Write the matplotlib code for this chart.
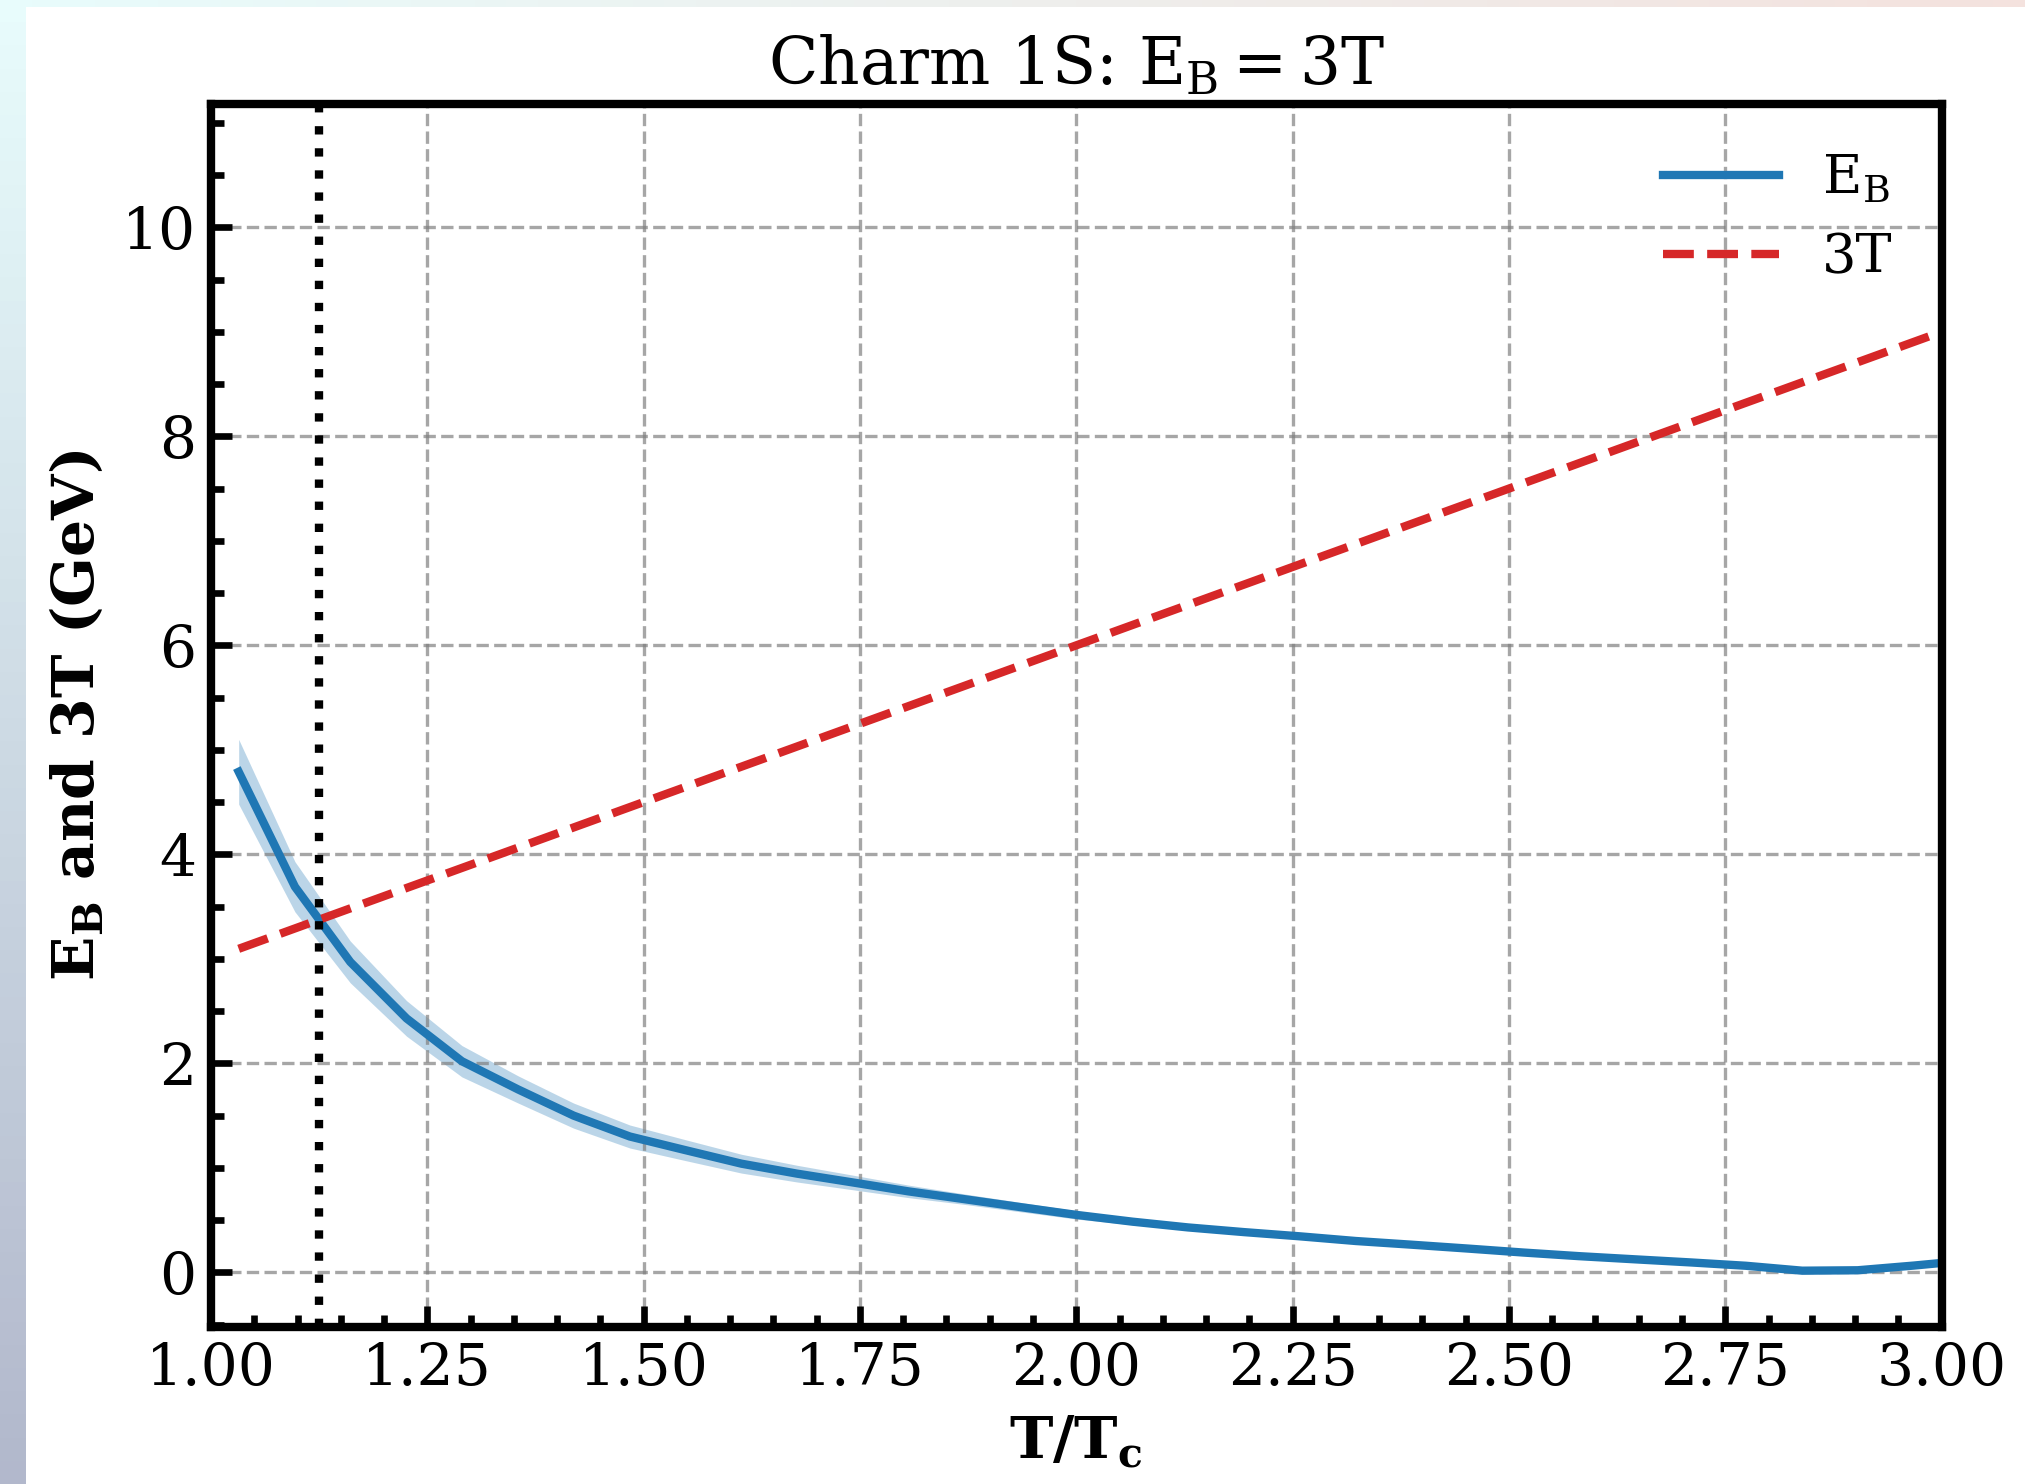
import numpy as np
import matplotlib
matplotlib.use("Agg")
import matplotlib.pyplot as plt
from matplotlib.patches import Rectangle
from matplotlib.ticker import MultipleLocator

plt.rcParams['font.family'] = 'serif'
plt.rcParams['font.serif'] = ['DejaVu Serif']
plt.rcParams['mathtext.fontset'] = 'dejavuserif'

# T/Tc grid and charm 1S binding energy (GeV) with its band
t_over_tc = [1.032, 1.097, 1.161, 1.226, 1.290, 1.355, 1.419, 1.484, 1.548, 1.613,
             1.677, 1.742, 1.806, 1.871, 1.935, 2.000, 2.065, 2.129, 2.194, 2.258,
             2.323, 2.387, 2.452, 2.516, 2.581, 2.645, 2.710, 2.774, 2.839, 2.903,
             2.968, 3.032]
e_b = [4.79, 3.69, 2.97, 2.43, 2.02, 1.75, 1.50, 1.30, 1.17, 1.04,
       0.945, 0.86, 0.775, 0.70, 0.625, 0.55, 0.485, 0.43, 0.385, 0.345,
       0.30, 0.265, 0.228, 0.19, 0.155, 0.125, 0.095, 0.063, 0.016, 0.02,
       0.065, 0.115]
e_b_err = [0.31, 0.24, 0.20, 0.17, 0.15, 0.13, 0.12, 0.11, 0.10, 0.09,
           0.08, 0.07, 0.06, 0.05, 0.045, 0.04, 0.03, 0.025, 0.02, 0.015,
           0.01, 0.01, 0.005, 0.005, 0.0, 0.0, 0.0, 0.0, 0.0, 0.0,
           0.0, 0.0]
x_cross = 1.125   # where E_B = 3T

x = np.array(t_over_tc)
eb = np.array(e_b)
err = np.array(e_b_err)
three_t = 3 * x

fig = plt.figure(figsize=(6.75, 4.9467), dpi=300)

# pale gradient frame showing at the left and top edges
bg = fig.add_axes([0, 0, 1, 1], zorder=-10)
gy, gx = np.mgrid[0:1:64j, 0:1:64j]
tl = np.array([232, 252, 252]) / 255
bl = np.array([178, 184, 204]) / 255
tr = np.array([244, 226, 222]) / 255
br = np.array([250, 250, 250]) / 255
grad = ((1 - gx)[..., None] * ((1 - gy)[..., None] * tl + gy[..., None] * bl)
        + gx[..., None] * ((1 - gy)[..., None] * tr + gy[..., None] * br))
bg.imshow(grad, extent=(0, 1, 0, 1), aspect='auto', origin='upper')
bg.add_patch(Rectangle((26 / 2025, 0), 1, 1 - 7 / 1484, color='white', lw=0))
bg.set_xlim(0, 1)
bg.set_ylim(0, 1)
bg.axis('off')

ax = fig.add_axes([0.1042, 0.106, 0.8546, 0.8239])

ax.fill_between(x, eb - err, eb + err, color='#1f77b4', alpha=0.3, lw=0)
ax.plot(x, eb, color='#1f77b4', lw=2, label=r'$\mathrm{E_B}$')
ax.plot(x, three_t, color='#d62728', lw=2, ls='--', label='3T')
ax.axvline(x_cross, color='black', lw=2, ls=':')

ax.set_xlim(1.0, 3.0)
ax.set_ylim(-0.52, 11.18)
ax.xaxis.set_major_locator(MultipleLocator(0.25))
ax.xaxis.set_minor_locator(MultipleLocator(0.05))
ax.yaxis.set_major_locator(MultipleLocator(2))
ax.yaxis.set_minor_locator(MultipleLocator(0.5))

ax.tick_params(which='both', direction='in', top=False, right=False, labelsize=14)
ax.tick_params(which='major', length=5, width=1.6)
ax.tick_params(which='minor', length=3, width=1.6)
for s in ax.spines.values():
    s.set_linewidth(2)

ax.grid(True, which='major', ls='--', lw=0.8, color='gray', alpha=0.7)

ax.set_title(r'Charm 1S: $\mathrm{E_B = 3T}$', fontsize=15.5, pad=4.5)
ax.set_xlabel(r'$\mathbf{T/T_c}$', fontsize=14)
ax.set_ylabel(r'$\mathbf{E_B}$ and 3T (GeV)', fontsize=14, fontweight='bold')
ax.legend(loc='upper right', frameon=False, fontsize=13, handlelength=2.15,
          labelspacing=0.5)

fig.savefig('out.png', dpi=300)
